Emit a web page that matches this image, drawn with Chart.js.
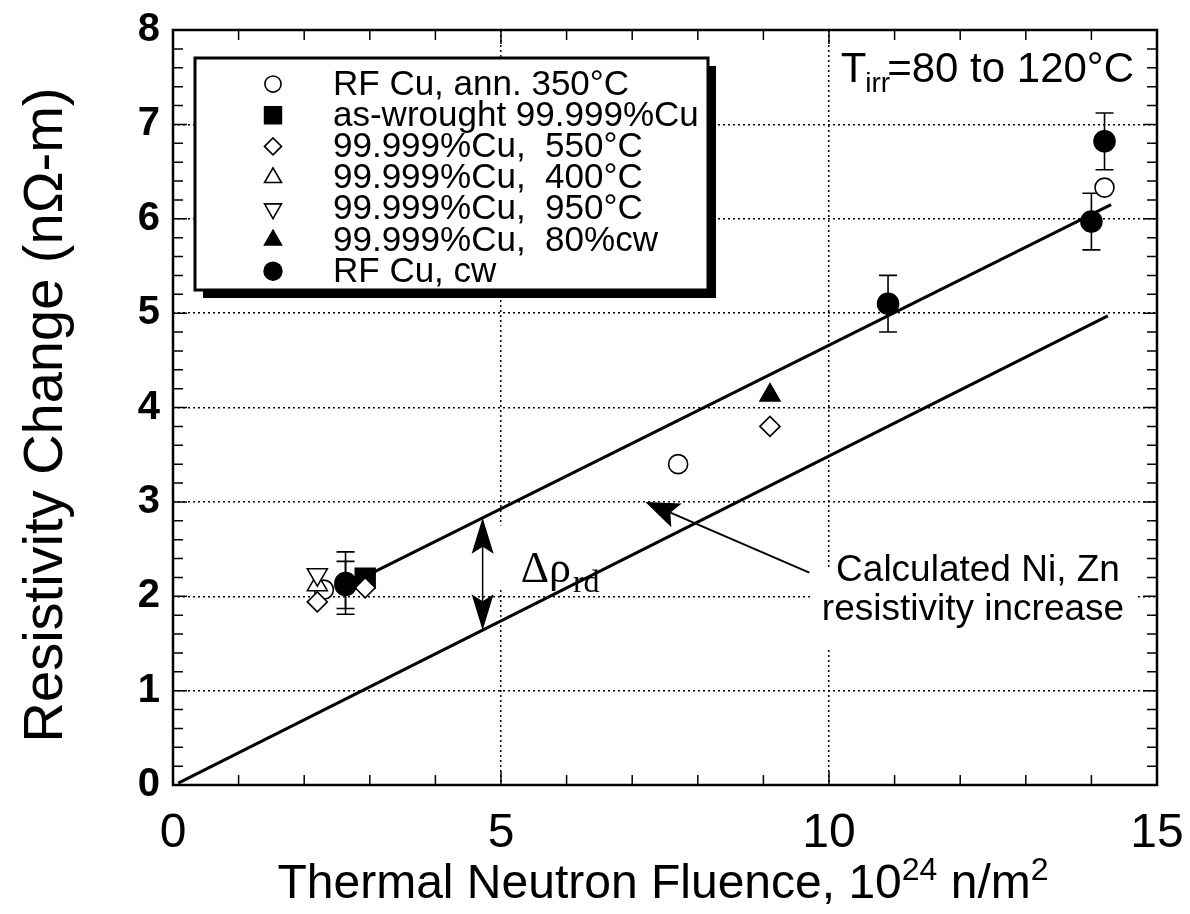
<!DOCTYPE html>
<html><head><meta charset="utf-8">
<script src="https://cdn.jsdelivr.net/npm/chart.js@4.4.1/dist/chart.umd.min.js"></script>
<style>html,body{margin:0;padding:0;background:#fff;}#wrap{width:1190px;height:914px;}</style>
</head><body><div id="wrap"><canvas id="c" width="1190" height="914"></canvas></div>
<script>
// ---- data ----
const xTickValues = [0, 5, 10, 15];
const yTickValues = [0, 1, 2, 3, 4, 5, 6, 7, 8];
const seriesLabels = ["RF Cu, ann. 350°C", "as-wrought 99.999%Cu", "99.999%Cu,  550°C", "99.999%Cu,  400°C", "99.999%Cu,  950°C", "99.999%Cu,  80%cw", "RF Cu, cw"];
const ann350X = [2.3, 7.7, 14.2];
const ann350Y = [2.07, 3.40, 6.33];
const wroughtX = [2.93];
const wroughtY = [2.19];
const c550X = [2.2, 2.93, 9.1];
const c550Y = [1.94, 2.09, 3.80];
const c400X = [2.2];
const c400Y = [2.12];
const c950X = [2.2];
const c950Y = [2.23];
const cw80X = [9.1];
const cw80Y = [4.13];
const rfcwX = [2.63, 2.63, 10.9, 14.0, 14.2];
const rfcwY = [2.14, 2.12, 5.1, 5.97, 6.82];
const rfcwErr = [0.33, 0.25, 0.3, 0.3, 0.3];
const fitUpperX = [2.9, 14.3];
const fitUpperY = [2.2, 6.15];
const calcLowerX = [0.08, 14.25];
const calcLowerY = [0.02, 4.97];
const deltaArrowX = 4.72;
const calcArrowTail = [9.7, 2.25];
const calcArrowTip = [7.2, 3.0];

const pts = (xs, ys) => xs.map((x, i) => ({x, y: ys[i]}));
const BK = '#000', WH = '#fff';
const styles = [
  {pointStyle: 'circle', radius: 9.5, bg: WH, rot: 0},
  {pointStyle: 'rect', radius: 14, bg: BK, rot: 0},
  {pointStyle: 'rectRot', radius: 10, bg: WH, rot: 0},
  {pointStyle: 'triangle', radius: 11.5, bg: WH, rot: 0},
  {pointStyle: 'triangle', radius: 11.5, bg: WH, rot: 180},
  {pointStyle: 'triangle', radius: 11.5, bg: BK, rot: 0},
  {pointStyle: 'circle', radius: 10.5, bg: BK, rot: 0}
];
const seriesData = [pts(ann350X, ann350Y), pts(wroughtX, wroughtY), pts(c550X, c550Y), pts(c400X, c400Y), pts(c950X, c950Y), pts(cw80X, cw80Y), pts(rfcwX, rfcwY)];

const datasets = [
  {type: 'line', label: 'fit', data: pts(fitUpperX, fitUpperY), borderColor: BK, borderWidth: 3, pointRadius: 0, showLine: true, fill: false, order: 10},
  {type: 'line', label: 'calc', data: pts(calcLowerX, calcLowerY), borderColor: BK, borderWidth: 3, pointRadius: 0, showLine: true, fill: false, order: 10}
];
seriesLabels.forEach((lab, i) => {
  const s = styles[i];
  datasets.push({type: 'scatter', label: lab, data: seriesData[i], pointStyle: s.pointStyle, pointRadius: s.radius,
    pointRotation: s.rot, backgroundColor: s.bg, borderColor: BK, borderWidth: 1.6, order: 7 - i, isSeries: true,
    err: i === 6 ? rfcwErr : null});
});

const SANS = "'Liberation Sans', Arial, Helvetica, sans-serif";
const SERIF = "'Liberation Serif', 'Times New Roman', serif";

function arrowHead(ctx, x1, y1, x2, y2, len, half) {
  const a = Math.atan2(y2 - y1, x2 - x1);
  ctx.beginPath();
  ctx.moveTo(x2, y2);
  ctx.lineTo(x2 - len * Math.cos(a) + half * Math.sin(a), y2 - len * Math.sin(a) - half * Math.cos(a));
  ctx.lineTo(x2 - len * 0.8 * Math.cos(a), y2 - len * 0.8 * Math.sin(a));
  ctx.lineTo(x2 - len * Math.cos(a) - half * Math.sin(a), y2 - len * Math.sin(a) + half * Math.cos(a));
  ctx.closePath();
  ctx.fill();
}

const decor = {
  id: 'decor',
  beforeDatasetsDraw(chart) {
    const {ctx, chartArea: a, scales: {x, y}} = chart;
    ctx.save();
    ctx.fillStyle = WH;
    ctx.fillRect(x.getPixelForValue(4.9), y.getPixelForValue(2.75), 125, 62);
    ctx.fillRect(812, y.getPixelForValue(2.3), 325, 80);
    ctx.strokeStyle = BK; ctx.lineWidth = 1.6;
    chart.data.datasets.forEach(ds => {
      if (!ds.err) return;
      ds.data.forEach((p, i) => {
        const px = x.getPixelForValue(p.x);
        const yt = y.getPixelForValue(p.y + ds.err[i]);
        const yb = y.getPixelForValue(p.y - ds.err[i]);
        ctx.beginPath();
        ctx.moveTo(px, yt); ctx.lineTo(px, yb);
        ctx.moveTo(px - 9, yt); ctx.lineTo(px + 9, yt);
        ctx.moveTo(px - 9, yb); ctx.lineTo(px + 9, yb);
        ctx.stroke();
      });
    });
    ctx.restore();
  },
  afterDatasetsDraw(chart) {
    const {ctx, chartArea: a, scales: {x, y}} = chart;
    ctx.save();
    ctx.strokeStyle = BK; ctx.lineWidth = 2.5;
    ctx.strokeRect(a.left, a.top, a.right - a.left, a.bottom - a.top);
    ctx.lineWidth = 1.5;
    ctx.beginPath();
    for (let v = 0; v <= 15; v++) {
      const px = x.getPixelForValue(v);
      const L = v % 5 === 0 ? 14 : 10;
      ctx.moveTo(px, a.bottom); ctx.lineTo(px, a.bottom - L);
      ctx.moveTo(px, a.top); ctx.lineTo(px, a.top + L);
    }
    for (let k = 0; k <= 40; k++) {
      const py = y.getPixelForValue(k * 0.2);
      const L = k % 5 === 0 ? 14 : 10;
      ctx.moveTo(a.left, py); ctx.lineTo(a.left + L, py);
      ctx.moveTo(a.right, py); ctx.lineTo(a.right - L, py);
    }
    ctx.stroke();

    ctx.fillStyle = BK; ctx.strokeStyle = BK;
    const ax = x.getPixelForValue(deltaArrowX);
    const yTop = y.getPixelForValue(fitUpperY[0] + (deltaArrowX - fitUpperX[0]) * (fitUpperY[1] - fitUpperY[0]) / (fitUpperX[1] - fitUpperX[0]));
    const yBot = y.getPixelForValue(calcLowerY[0] + (deltaArrowX - calcLowerX[0]) * (calcLowerY[1] - calcLowerY[0]) / (calcLowerX[1] - calcLowerX[0]));
    ctx.lineWidth = 1.5;
    ctx.beginPath(); ctx.moveTo(ax, yTop + 10); ctx.lineTo(ax, yBot - 10); ctx.stroke();
    arrowHead(ctx, ax, yBot, ax, yTop, 36, 11);
    arrowHead(ctx, ax, yTop, ax, yBot, 36, 11);
    ctx.textBaseline = 'alphabetic'; ctx.textAlign = 'left';
    ctx.font = `44px ${SERIF}`;
    const lx = ax + 38, ly = y.getPixelForValue(2.0) - 14;
    ctx.fillText('Δρ', lx, ly);
    const w1 = ctx.measureText('Δρ').width;
    ctx.font = `32px ${SERIF}`;
    ctx.fillText('rd', lx + w1 + 2, ly + 10);
    const tx = x.getPixelForValue(calcArrowTail[0]), ty = y.getPixelForValue(calcArrowTail[1]);
    const hx = x.getPixelForValue(calcArrowTip[0]), hy = y.getPixelForValue(calcArrowTip[1]);
    ctx.lineWidth = 2;
    ctx.beginPath(); ctx.moveTo(tx, ty); ctx.lineTo(hx + (tx - hx) * 0.1, hy + (ty - hy) * 0.1); ctx.stroke();
    arrowHead(ctx, tx, ty, hx, hy, 34, 13);
    ctx.font = `37px ${SANS}`; ctx.textAlign = 'center';
    ctx.fillText('Calculated Ni, Zn', 978, 581);
    ctx.fillText('resistivity increase', 973, 620);
    ctx.textAlign = 'left';
    const big = `42px ${SANS}`, small = `28px ${SANS}`;
    ctx.font = big; const wT = ctx.measureText('T').width; const rest = '=80 to 120°C'; const wR = ctx.measureText(rest).width;
    ctx.font = small; const wI = ctx.measureText('irr').width;
    let sx = 1134 - (wT + wI + wR - 4);
    ctx.font = big; ctx.fillText('T', sx, 82);
    ctx.font = small; ctx.fillText('irr', sx + wT - 1, 92);
    ctx.font = big; ctx.fillText(rest, sx + wT + wI - 4, 82);

    const bx = 195, by = 58, bw = 513, bh = 232;
    ctx.fillStyle = BK; ctx.fillRect(bx + 8, by + 8, bw, bh);
    ctx.fillStyle = WH; ctx.fillRect(bx, by, bw, bh);
    ctx.lineWidth = 3; ctx.strokeStyle = BK; ctx.strokeRect(bx, by, bw, bh);
    ctx.font = `35px ${SANS}`; ctx.textAlign = 'left'; ctx.textBaseline = 'middle';
    chart.data.datasets.filter(d => d.isSeries).forEach((d, i) => {
      const ry = 84 + i * 31.2;
      ctx.fillStyle = d.backgroundColor; ctx.strokeStyle = BK; ctx.lineWidth = 1.6;
      Chart.helpers.drawPoint(ctx, {pointStyle: d.pointStyle, rotation: d.pointRotation, radius: d.pointRadius * 0.85, borderWidth: 1.6}, 273, ry);
      ctx.fillStyle = BK;
      ctx.fillText(d.label, 333, ry + 1);
    });

    ctx.textBaseline = 'alphabetic';
    ctx.fillStyle = BK;
    const tb = `48px ${SANS}`, ts = `32px ${SANS}`;
    const parts = [['Thermal Neutron Fluence, 10', tb, 0], ['24', ts, -18], [' n/m', tb, 0], ['2', ts, -18]];
    let tw = 0; parts.forEach(p => { ctx.font = p[1]; p.push(ctx.measureText(p[0]).width); tw += p[3]; });
    let cx = 663 - tw / 2;
    parts.forEach(p => { ctx.font = p[1]; ctx.fillText(p[0], cx, 898 + p[2]); cx += p[3]; });
    ctx.save();
    ctx.translate(62, 415); ctx.rotate(-Math.PI / 2);
    ctx.font = `56px ${SANS}`; ctx.textAlign = 'center';
    ctx.fillText('Resistivity Change (nΩ-m)', 0, 0);
    ctx.restore();
    ctx.restore();
  }
};

new Chart(document.getElementById('c'), {
  type: 'scatter',
  data: {datasets},
  options: {
    responsive: false, animation: false, devicePixelRatio: 1,
    layout: {padding: {left: 0, right: 33, top: 30, bottom: 0}},
    plugins: {legend: {display: false}, tooltip: {enabled: false}},
    scales: {
      x: {type: 'linear', min: 0, max: 15,
        afterBuildTicks: s => { s.ticks = xTickValues.map(v => ({value: v})); },
        ticks: {autoSkip: false, maxRotation: 0, color: BK, padding: 20, font: {family: SANS, size: 48}},
        grid: {drawTicks: false, lineWidth: 1.5, color: c => (c.tick && (c.tick.value === 0 || c.tick.value === 15)) ? 'rgba(0,0,0,0)' : BK},
        border: {display: false, dash: [2, 3]},
        afterFit: s => { s.height = 914 - 785; s.paddingLeft = 0; s.paddingRight = 0; }},
      y: {type: 'linear', min: 0, max: 8,
        afterBuildTicks: s => { s.ticks = yTickValues.map(v => ({value: v})); },
        ticks: {autoSkip: false, color: BK, padding: 13, font: {family: SANS, size: 40, weight: 'bold'}},
        grid: {drawTicks: false, lineWidth: 1.5, color: c => (c.tick && (c.tick.value === 0 || c.tick.value === 8)) ? 'rgba(0,0,0,0)' : BK},
        border: {display: false, dash: [2, 3]},
        afterFit: s => { s.width = 173; s.paddingTop = 0; s.paddingBottom = 0; }}
    }
  },
  plugins: [decor]
});
</script></body></html>
